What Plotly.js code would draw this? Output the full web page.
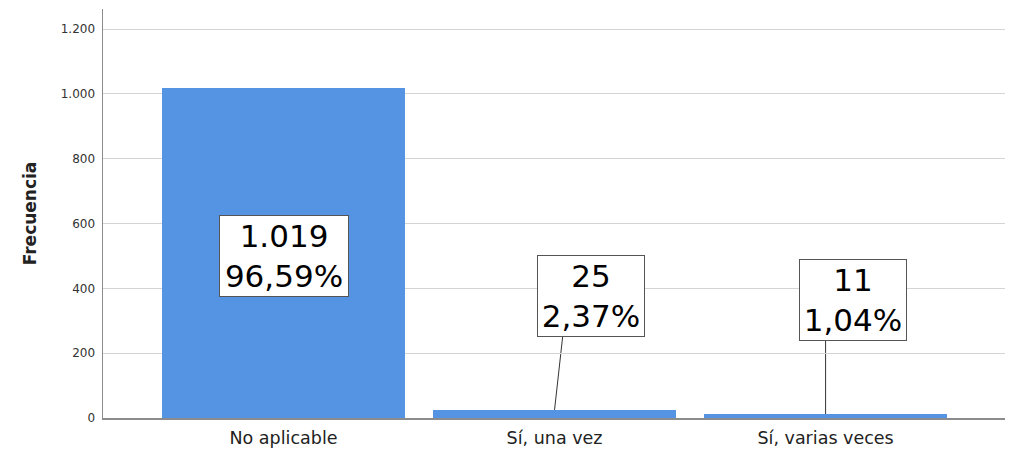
<!DOCTYPE html>
<html>
<head>
<meta charset="utf-8">
<script src="https://cdn.plot.ly/plotly-3.0.1.min.js"></script>
<style>html,body{margin:0;padding:0;background:#fff;}#chart{width:1020px;height:453px;}</style>
</head>
<body>
<div id="chart"></div>
<script>
const categories = ["No aplicable", "Sí, una vez", "Sí, varias veces"];
const counts = [1019, 25, 11];
const yTicks = [0, 200, 400, 600, 800, 1000, 1200];
const labelY = [500, 376, 364];           // vertical position of the label boxes (data units)
const labelDx = [0, 0.135, 0.10];          // horizontal offset of label boxes (category units)
const leaderDx = [0, 0.03, 0];             // offset of leader top end

const total = counts.reduce((a, b) => a + b, 0);
function fmtInt(n) { return String(n).replace(/\B(?=(\d{3})+(?!\d))/g, "."); }
function fmtPct(v) { return v.toFixed(2).replace(".", ",") + "%"; }

const xs = categories.map((c, i) => i);
const trace = {
  type: "bar",
  x: xs,
  y: counts,
  width: 0.897,
  marker: { color: "#5593e3", line: { width: 0 } },
  hoverinfo: "skip"
};

const annotations = counts.map((v, i) => ({
  x: i + labelDx[i], y: labelY[i], xref: "x", yref: "y",
  text: fmtInt(v) + "<br>" + fmtPct(v / total * 100),
  showarrow: false,
  font: { family: "DejaVu Sans", size: 31, color: "#000" },
  width: [126, 104, 104][i],
  height: 78,
  bgcolor: "#ffffff",
  bordercolor: "#555555",
  borderwidth: 1,
  borderpad: 1
}));

const shapes = [];
counts.forEach((v, i) => {
  if (labelY[i] - 125 > v) {
    shapes.push({
      type: "line", xref: "x", yref: "y",
      x0: i, y0: v, x1: i + leaderDx[i], y1: labelY[i] - 125,
      line: { color: "#333", width: 1 }, layer: "below"
    });
  }
});

const layout = {
  width: 1020, height: 453,
  margin: { l: 103, r: 15, t: 9, b: 35 },
  paper_bgcolor: "#fff", plot_bgcolor: "#fff",
  separators: ",.",
  showlegend: false,
  xaxis: {
    range: [-0.666, 2.662],
    tickvals: xs, ticktext: categories,
    showgrid: false, zeroline: false,
    showline: true, linecolor: "#8c8c8c", linewidth: 2,
    ticks: "", ticklabelstandoff: 3,
    tickfont: { family: "DejaVu Sans", size: 17.5, color: "#222" },
    fixedrange: true
  },
  yaxis: {
    range: [0, 1262],
    tickvals: yTicks, ticktext: yTicks.map(fmtInt),
    showgrid: true, gridcolor: "#d4d4d4", gridwidth: 1,
    zeroline: false,
    showline: true, linecolor: "#8c8c8c", linewidth: 1.5,
    ticks: "", ticklabelstandoff: 4,
    tickfont: { family: "DejaVu Sans", size: 12, color: "#333" },
    title: { text: "<b>Frecuencia</b>", font: { family: "DejaVu Sans", size: 17, color: "#222" }, standoff: 20 },
    fixedrange: true
  },
  annotations: annotations,
  shapes: shapes,
  bargap: 0
};

Plotly.newPlot("chart", [trace], layout, { displayModeBar: false, staticPlot: true });
</script>
</body>
</html>
